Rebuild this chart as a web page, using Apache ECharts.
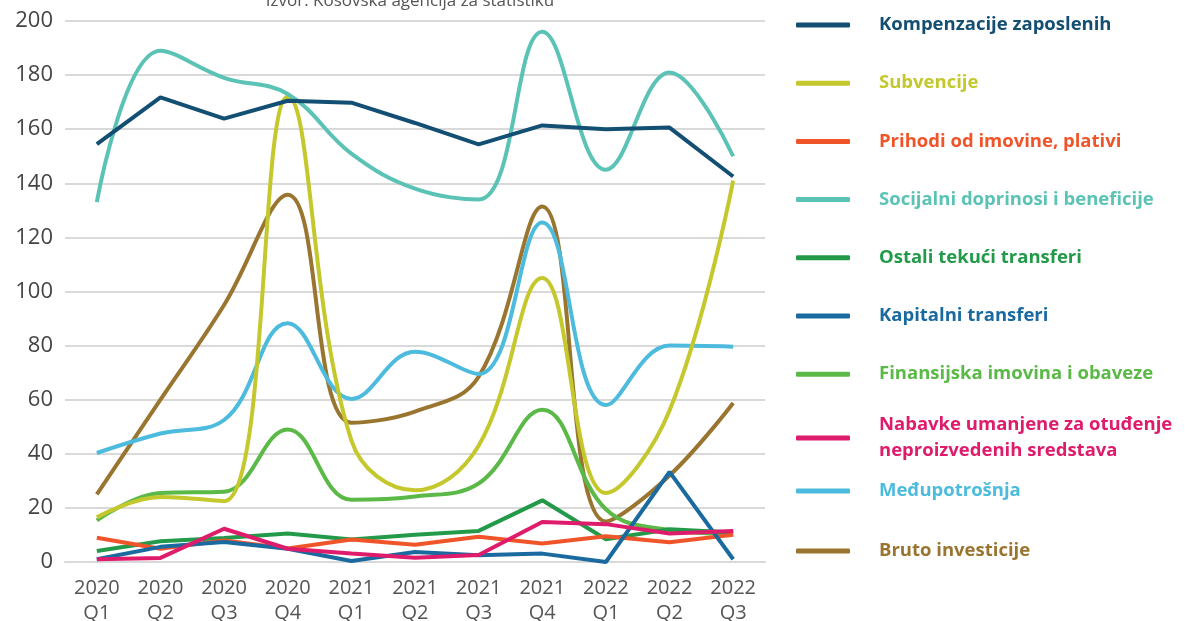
<!DOCTYPE html>
<html>
<head>
<meta charset="utf-8">
<title>Kosovo</title>
<script src="https://cdn.jsdelivr.net/npm/echarts@6/dist/echarts.min.js"></script>
<style>
  html, body { margin: 0; padding: 0; background: #fff; }
  #chart { width: 1192px; height: 621px; }
</style>
</head>
<body>
<div id="chart"></div>
<script>
// kvartali
const quarters = ['2020\nQ1', '2020\nQ2', '2020\nQ3', '2020\nQ4', '2021\nQ1', '2021\nQ2', '2021\nQ3', '2021\nQ4', '2022\nQ1', '2022\nQ2', '2022\nQ3']

const kompenzacije = [154.5, 171.8, 163.9, 170.5, 169.8, 162.3, 154.4, 161.4, 160, 160.6, 142.5]
const subvencije = [16.5, 24, 22.5, 172, 45, 26.5, 43, 105, 25.5, 56, 141]
const prihodi = [9, 4.9, 8, 5, 8.3, 6.4, 9.3, 6.8, 9.5, 7.3, 10.1]
const socijalni = [133, 189, 179, 173, 151, 138, 134, 196, 145, 181, 150]
const ostali = [4.1, 7.7, 8.9, 10.5, 8.3, 10.1, 11.5, 22.8, 8.4, 12.1, 10.9]
const kapitalni = [1, 5.6, 7.4, 4.9, 0.4, 3.7, 2.5, 3.1, 0, 33.3, 1]
const finansijska = [15.4, 25.5, 26, 49, 23, 24.2, 29, 56.3, 19.5, 11.8, 10.4]
const nabavke = [1, 1.5, 12.3, 4.9, 3.1, 1.6, 2.6, 14.8, 14, 10.5, 11.5]
const medjupotrosnja = [40.3, 47.5, 52.5, 88.3, 60.3, 77.7, 69.5, 125.5, 58, 80, 79.6]
const bruto = [25, 60, 95, 135.8, 51.5, 55.6, 68.5, 131.4, 15, 32, 58.8]

const yTicks = { min: 0, max: 200, interval: 20 }

const seriesDefs = [
  { name: 'Kompenzacije zaposlenih', data: kompenzacije, color: '#134f73', smooth: false },
  { name: 'Subvencije', data: subvencije, color: '#c5c82c', smooth: true },
  { name: 'Prihodi od imovine, plativi', data: prihodi, color: '#f0552a', smooth: false },
  { name: 'Socijalni doprinosi i beneficije', data: socijalni, color: '#5bc3b5', smooth: true },
  { name: 'Ostali tekući transferi', data: ostali, color: '#239a4a', smooth: false },
  { name: 'Kapitalni transferi', data: kapitalni, color: '#1a6aa0', smooth: false },
  { name: 'Finansijska imovina i obaveze', data: finansijska, color: '#5ab947', smooth: true },
  { name: 'Nabavke umanjene za otuđenje neproizvedenih sredstava', data: nabavke, color: '#df1b6c', smooth: false },
  { name: 'Međupotrošnja', data: medjupotrosnja, color: '#4dbbdd', smooth: true },
  { name: 'Bruto investicije', data: bruto, color: '#997530', smooth: true },
]

// redoslijed crtanja (zadnji je gore)
const drawOrder = [9, 8, 6, 1, 3, 0, 4, 2, 5, 7]

const font = '"Open Sans", "Noto Sans", sans-serif'

function legendItems(idx) {
  return idx.map((i) => ({
    name: seriesDefs[i].name,
    textStyle: { color: seriesDefs[i].color },
  }))
}

const legendBase = {
  orient: 'vertical',
  left: 796,
  padding: 0,
  icon: 'roundRect',
  itemWidth: 54,
  itemHeight: 5,
  selectedMode: false,
  textStyle: {
    fontFamily: font,
    fontWeight: 'bold',
    fontSize: 18.5,
    lineHeight: 22,
    padding: [0, 0, 0, 24],
  },
}

const chart = echarts.init(document.getElementById('chart'))
chart.setOption({
  backgroundColor: '#fff',
  animation: false,
  title: {
    text: 'Izvor: Kosovska agencija za statistiku',
    left: 405,
    top: -12,
    textAlign: 'center',
    textStyle: {
      color: '#555',
      fontFamily: font,
      fontWeight: 'normal',
      fontSize: 17,
    },
  },
  legend: [
    Object.assign({}, legendBase, {
      top: 14,
      itemGap: 36.2,
      data: legendItems([0, 1, 2, 3, 4, 5, 6]),
    }),
    Object.assign({}, legendBase, {
      top: 412,
      data: legendItems([7]),
      textStyle: Object.assign({}, legendBase.textStyle, { lineHeight: 26 }),
      formatter: () => 'Nabavke umanjene za otuđenje\nneproizvedenih sredstava',
    }),
    Object.assign({}, legendBase, {
      top: 480,
      itemGap: 38,
      data: legendItems([8, 9]),
    }),
  ],
  grid: {
    left: 65,
    right: 427,
    top: 21,
    bottom: 59,
    containLabel: false,
    outerBoundsMode: 'none',
  },
  xAxis: {
    type: 'category',
    data: quarters,
    boundaryGap: true,
    axisTick: { show: false },
    axisLine: { lineStyle: { color: '#d9d9d9', width: 2 } },
    axisLabel: {
      color: '#555',
      fontFamily: font,
      fontSize: 20,
      lineHeight: 25,
      margin: 14,
      interval: 0,
    },
  },
  yAxis: {
    type: 'value',
    min: yTicks.min,
    max: yTicks.max,
    interval: yTicks.interval,
    axisLine: { show: false },
    axisTick: { show: false },
    axisLabel: {
      color: '#444',
      fontFamily: font,
      fontSize: 22,
      margin: 12,
    },
    splitLine: { lineStyle: { color: '#d9d9d9', width: 2 } },
  },
  series: drawOrder.map((i) => {
    const s = seriesDefs[i]
    return {
      name: s.name,
      type: 'line',
      data: s.data,
      smooth: s.smooth ? 0.4 : false,
      showSymbol: false,
      symbol: 'none',
      color: s.color,
      lineStyle: { color: s.color, width: 4 },
    }
  }),
})
</script>
</body>
</html>
